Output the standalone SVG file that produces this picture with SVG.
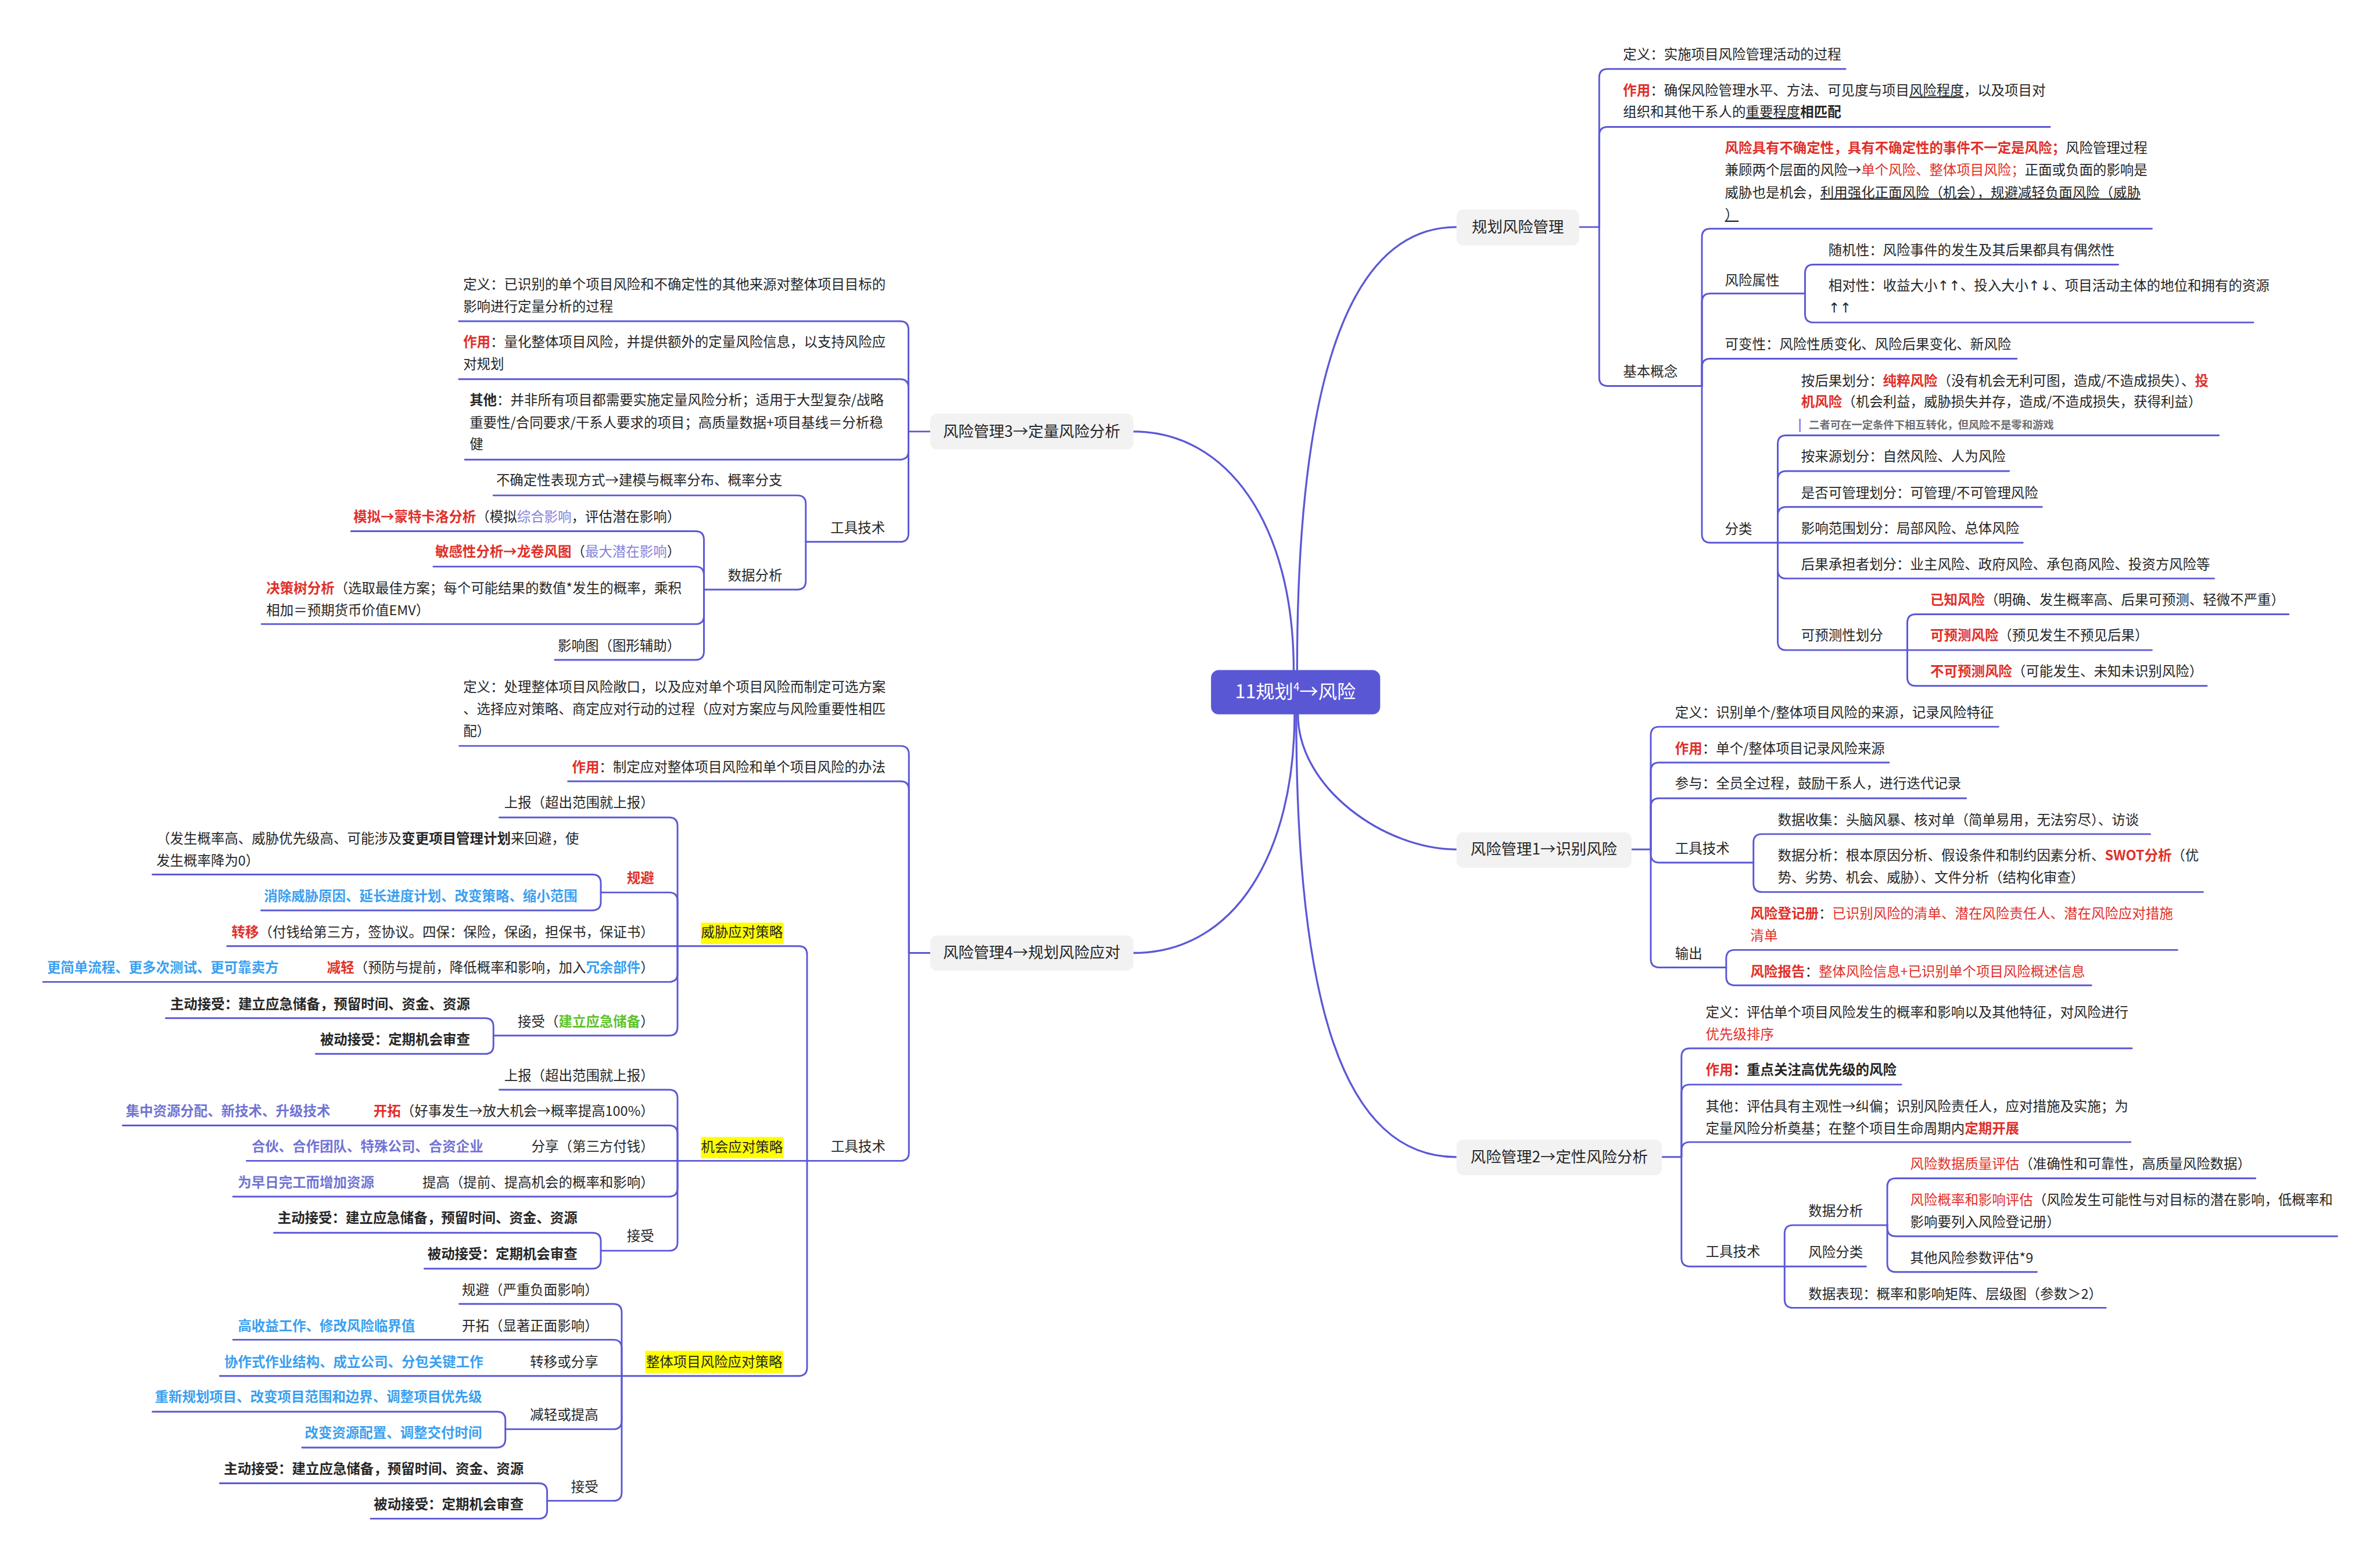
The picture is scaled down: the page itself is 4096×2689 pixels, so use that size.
<svg xmlns="http://www.w3.org/2000/svg" width="4096" height="2689" viewBox="0 0 4096 2689">
<style>
text{font-family:"Noto Sans CJK SC","Noto Sans",sans-serif;font-size:32px;fill:#262626}
.c{fill:none;stroke:#5B58D6;stroke-width:4;stroke-linecap:round;stroke-linejoin:round}
.m{fill:none;stroke:#5B58D6;stroke-width:4.5;stroke-linecap:round}
.r{fill:#E0302A}
.b{font-weight:bold}
.rb{fill:#E0302A;font-weight:bold}
.bl{fill:#3A9FF0;font-weight:bold}
.pb{fill:#7173D4;font-weight:bold}
.pu{fill:#8583DA}
.gr{fill:#5FC22B;font-weight:bold}
.u{text-decoration:underline}
.l1{font-size:36px;text-anchor:middle}
.hl{fill:#FFFF00}
.n1{fill:#F2F2F2}
.e{text-anchor:end}
.note{font-size:25px;font-weight:bold;fill:#6E6E73}
.ct{font-size:44px;fill:#FFFFFF;text-anchor:middle}
.ar{font-family:"DejaVu Sans",sans-serif}
</style>
<rect width="4096" height="2689" fill="#FFFFFF"/>
<g transform="scale(0.73335)">
<g id="connectors">
<path class="m" d="M3044 1573C3044 1000 3130 533 3418 533"/>
<path class="m" d="M3036 1573C3036 1230 2880 1013 2660 1013"/>
<path class="m" d="M3046 1677C3046 1850 3250 1994 3418 1994"/>
<path class="m" d="M3042 1677C3042 2350 3150 2716 3418 2716"/>
<path class="m" d="M3038 1677C3038 2000 2900 2237 2660 2237"/>
<path class="c" d="M3706 533H3753"/>
<path class="c" d="M3753 533V182Q3753 162 3773 162H4331"/>
<path class="c" d="M3753 533V318Q3753 298 3773 298H4811"/>
<path class="c" d="M3753 533V886Q3753 906 3773 906H3994"/>
<path class="c" d="M3994 906V557Q3994 537 4014 537H5050"/>
<path class="c" d="M3994 906V709Q3994 689 4014 689H4236"/>
<path class="c" d="M3994 906V862Q3994 842 4014 842H4733"/>
<path class="c" d="M3994 906V1254Q3994 1274 4014 1274H4172"/>
<path class="c" d="M4236 689V641Q4236 621 4256 621H4971"/>
<path class="c" d="M4236 689V737Q4236 757 4256 757H5288"/>
<path class="c" d="M4172 1274V1042Q4172 1022 4192 1022H5207"/>
<path class="c" d="M4172 1274V1126Q4172 1106 4192 1106H4715"/>
<path class="c" d="M4172 1274V1210Q4172 1190 4192 1190H4792"/>
<path class="c" d="M4172 1274H4747"/>
<path class="c" d="M4172 1274V1338Q4172 1358 4192 1358H5196"/>
<path class="c" d="M4172 1274V1506Q4172 1526 4192 1526H4476"/>
<path class="c" d="M4476 1526V1462Q4476 1442 4496 1442H5371"/>
<path class="c" d="M4476 1526H5050"/>
<path class="c" d="M4476 1526V1590Q4476 1610 4496 1610H5179"/>
<path class="c" d="M3829 1994H3874"/>
<path class="c" d="M3874 1994V1726Q3874 1706 3894 1706H4690"/>
<path class="c" d="M3874 1994V1810Q3874 1790 3894 1790H4433"/>
<path class="c" d="M3874 1994V1894Q3874 1874 3894 1874H4614"/>
<path class="c" d="M3874 1994V2005Q3874 2025 3894 2025H4115"/>
<path class="c" d="M3874 1994V2251Q3874 2271 3894 2271H4051"/>
<path class="c" d="M4115 2025V1978Q4115 1958 4135 1958H5046"/>
<path class="c" d="M4115 2025V2074Q4115 2094 4135 2094H5170"/>
<path class="c" d="M4051 2271V2250Q4051 2230 4071 2230H5110"/>
<path class="c" d="M4051 2271V2293Q4051 2313 4071 2313H4908"/>
<path class="c" d="M3900 2716H3946"/>
<path class="c" d="M3946 2716V2481Q3946 2461 3966 2461H5003"/>
<path class="c" d="M3946 2716V2566Q3946 2546 3966 2546H4462"/>
<path class="c" d="M3946 2716V2701Q3946 2681 3966 2681H5000"/>
<path class="c" d="M3946 2716V2953Q3946 2973 3966 2973H4188"/>
<path class="c" d="M4188 2973V2896Q4188 2876 4208 2876H4429"/>
<path class="c" d="M4188 2973H4379"/>
<path class="c" d="M4188 2973V3050Q4188 3070 4208 3070H4942"/>
<path class="c" d="M4429 2876V2786Q4429 2766 4449 2766H5293"/>
<path class="c" d="M4429 2876V2882Q4429 2902 4449 2902H5485"/>
<path class="c" d="M4429 2876V2966Q4429 2986 4449 2986H4780"/>
<path class="c" d="M2183 1013H2132"/>
<path class="c" d="M2132 1013V774Q2132 754 2112 754H1077"/>
<path class="c" d="M2132 1013V910Q2132 890 2112 890H1077"/>
<path class="c" d="M2132 1013V1059Q2132 1079 2112 1079H1091"/>
<path class="c" d="M2132 1013V1252Q2132 1272 2112 1272H1891"/>
<path class="c" d="M1891 1272V1183Q1891 1163 1871 1163H1158"/>
<path class="c" d="M1891 1272V1364Q1891 1384 1871 1384H1652"/>
<path class="c" d="M1652 1384V1267Q1652 1247 1632 1247H824"/>
<path class="c" d="M1652 1384V1350Q1652 1330 1632 1330H1017"/>
<path class="c" d="M1652 1384V1445Q1652 1465 1632 1465H614"/>
<path class="c" d="M1652 1384V1529Q1652 1549 1632 1549H1302"/>
<path class="c" d="M2183 2237H2133"/>
<path class="c" d="M2133 2237V1771Q2133 1751 2113 1751H1078"/>
<path class="c" d="M2133 2237V1854Q2133 1834 2113 1834H1333"/>
<path class="c" d="M2133 2237V2705Q2133 2725 2113 2725H1894"/>
<path class="c" d="M1894 2725V2241Q1894 2221 1874 2221H1590"/>
<path class="c" d="M1894 2725H1590"/>
<path class="c" d="M1894 2725V3210Q1894 3230 1874 3230H1459"/>
<path class="c" d="M1590 2221V1939Q1590 1919 1570 1919H1172"/>
<path class="c" d="M1590 2221V2115Q1590 2095 1570 2095H1410"/>
<path class="c" d="M1590 2221H533"/>
<path class="c" d="M1590 2221V2285Q1590 2305 1570 2305H101"/>
<path class="c" d="M1590 2221V2411Q1590 2431 1570 2431H1158"/>
<path class="c" d="M1410 2095V2073Q1410 2053 1390 2053H358"/>
<path class="c" d="M1410 2095V2117Q1410 2137 1390 2137H613"/>
<path class="c" d="M1158 2431V2410Q1158 2390 1138 2390H389"/>
<path class="c" d="M1158 2431V2454Q1158 2474 1138 2474H741"/>
<path class="c" d="M1590 2725V2578Q1590 2558 1570 2558H1172"/>
<path class="c" d="M1590 2725V2662Q1590 2642 1570 2642H288"/>
<path class="c" d="M1590 2725H579"/>
<path class="c" d="M1590 2725V2789Q1590 2809 1570 2809H547"/>
<path class="c" d="M1590 2725V2916Q1590 2936 1570 2936H1410"/>
<path class="c" d="M1410 2936V2914Q1410 2894 1390 2894H643"/>
<path class="c" d="M1410 2936V2958Q1410 2978 1390 2978H996"/>
<path class="c" d="M1459 3230V3081Q1459 3061 1439 3061H1078"/>
<path class="c" d="M1459 3230V3165Q1459 3145 1439 3145H547"/>
<path class="c" d="M1459 3230H516"/>
<path class="c" d="M1459 3230V3335Q1459 3355 1439 3355H1186"/>
<path class="c" d="M1459 3230V3503Q1459 3523 1439 3523H1284"/>
<path class="c" d="M1186 3355V3334Q1186 3314 1166 3314H358"/>
<path class="c" d="M1186 3355V3378Q1186 3398 1166 3398H709"/>
<path class="c" d="M1284 3523V3502Q1284 3482 1264 3482H516"/>
<path class="c" d="M1284 3523V3545Q1284 3565 1264 3565H870"/>
</g>

<g id="root">
<rect x="2842" y="1573" width="397" height="104" rx="18" fill="#5A57D5"/>
<text class="ct" x="3040" y="1639">11规划<tspan font-size="26" dy="-18">4</tspan><tspan dy="18">→风险</tspan></text>
</g>

<g id="plan">
<rect class="n1" x="3418" y="492" width="288" height="84" rx="16"/>
<text class="l1" x="3562" y="546">规划风险管理</text>
</g>
<g id="plan-def"><text x="3809" y="139">定义：实施项目风险管理活动的过程</text></g>
<g id="plan-role"><text x="3809" y="224"><tspan class="rb">作用</tspan>：确保风险管理水平、方法、可见度与项目<tspan class="u">风险程度</tspan>，以及项目对<tspan x="3809" y="274">组织和其他干系人的</tspan><tspan class="u">重要程度</tspan><tspan class="b">相匹配</tspan></text></g>
<g id="plan-basic"><text x="3809" y="883">基本概念</text></g>
<g id="basic-risk"><text x="4048" y="359"><tspan class="rb">风险具有不确定性，具有不确定性的事件不一定是风险；</tspan>风险管理过程<tspan x="4048" y="411">兼顾两个层面的风险→</tspan><tspan class="r">单个风险、整体项目风险；</tspan>正面或负面的影响是<tspan x="4048" y="463">威胁也是机会，</tspan><tspan class="u">利用强化正面风险（机会），规避减轻负面风险（威胁</tspan><tspan x="4048" y="515" class="u">）</tspan></text></g>
<g id="basic-attr"><text x="4048" y="669">风险属性</text></g>
<g id="attr-random"><text x="4291" y="599">随机性：风险事件的发生及其后果都具有偶然性</text></g>
<g id="attr-relative"><text x="4291" y="682">相对性：收益大小<tspan class="ar">↑↑</tspan>、投入大小<tspan class="ar">↑↓</tspan>、项目活动主体的地位和拥有的资源<tspan x="4291" y="734" class="ar">↑↑</tspan></text></g>
<g id="basic-var"><text x="4048" y="819">可变性：风险性质变化、风险后果变化、新风险</text></g>
<g id="basic-cls"><text x="4048" y="1253">分类</text></g>
<g id="cls-result">
<text x="4227" y="905">按后果划分：<tspan class="rb">纯粹风险</tspan>（没有机会无利可图，造成/不造成损失）、<tspan class="rb">投</tspan><tspan x="4227" y="955" class="rb">机风险</tspan>（机会利益，威胁损失并存，造成/不造成损失，获得利益）</text>
<rect x="4222" y="983" width="4" height="31" fill="#8F8DE3"/>
<text class="note" x="4245" y="1006">二者可在一定条件下相互转化，但风险不是零和游戏</text>
</g>
<g id="cls-source"><text x="4227" y="1083">按来源划分：自然风险、人为风险</text></g>
<g id="cls-manage"><text x="4227" y="1168">是否可管理划分：可管理/不可管理风险</text></g>
<g id="cls-scope"><text x="4227" y="1252">影响范围划分：局部风险、总体风险</text></g>
<g id="cls-bearer"><text x="4227" y="1336">后果承担者划分：业主风险、政府风险、承包商风险、投资方风险等</text></g>
<g id="cls-predict"><text x="4227" y="1503">可预测性划分</text></g>
<g id="pred-known"><text x="4530" y="1419"><tspan class="rb">已知风险</tspan>（明确、发生概率高、后果可预测、轻微不严重）</text></g>
<g id="pred-pred"><text x="4530" y="1503"><tspan class="rb">可预测风险</tspan>（预见发生不预见后果）</text></g>
<g id="pred-unpred"><text x="4530" y="1587"><tspan class="rb">不可预测风险</tspan>（可能发生、未知未识别风险）</text></g>

<g id="identify">
<rect class="n1" x="3418" y="1954" width="411" height="83" rx="16"/>
<text class="l1" x="3623" y="2006">风险管理1→识别风险</text>
</g>
<g id="id-def"><text x="3931" y="1684">定义：识别单个/整体项目风险的来源，记录风险特征</text></g>
<g id="id-role"><text x="3931" y="1768"><tspan class="rb">作用</tspan>：单个/整体项目记录风险来源</text></g>
<g id="id-part"><text x="3931" y="1851">参与：全员全过程，鼓励干系人，进行迭代记录</text></g>
<g id="id-tools"><text x="3931" y="2003">工具技术</text></g>
<g id="id-collect"><text x="4172" y="1936">数据收集：头脑风暴、核对单（简单易用，无法穷尽）、访谈</text></g>
<g id="id-analysis"><text x="4172" y="2019">数据分析：根本原因分析、假设条件和制约因素分析、<tspan class="rb">SWOT分析</tspan>（优<tspan x="4172" y="2071">势、劣势、机会、威胁）、文件分析（结构化审查）</tspan></text></g>
<g id="id-output"><text x="3931" y="2250">输出</text></g>
<g id="id-register"><text x="4108" y="2156"><tspan class="rb">风险登记册</tspan>：<tspan class="r">已识别风险的清单、潜在风险责任人、潜在风险应对措施</tspan><tspan x="4108" y="2208" class="r">清单</tspan></text></g>
<g id="id-report"><text x="4108" y="2292"><tspan class="rb">风险报告</tspan>：<tspan class="r">整体风险信息+已识别单个项目风险概述信息</tspan></text></g>

<g id="qualitative">
<rect class="n1" x="3418" y="2675" width="482" height="84" rx="16"/>
<text class="l1" x="3659" y="2728">风险管理2→定性风险分析</text>
</g>
<g id="ql-def"><text x="4003" y="2387">定义：评估单个项目风险发生的概率和影响以及其他特征，对风险进行<tspan x="4003" y="2439" class="r">优先级排序</tspan></text></g>
<g id="ql-role"><text x="4003" y="2523"><tspan class="rb">作用</tspan><tspan class="b">：重点关注高优先级的风险</tspan></text></g>
<g id="ql-other"><text x="4003" y="2608">其他：评估具有主观性→纠偏；识别风险责任人，应对措施及实施；为<tspan x="4003" y="2660">定量风险分析奠基；在整个项目生命周期内</tspan><tspan class="rb">定期开展</tspan></text></g>
<g id="ql-tools"><text x="4003" y="2949">工具技术</text></g>
<g id="ql-analysis"><text x="4244" y="2854">数据分析</text></g>
<g id="ql-quality"><text x="4483" y="2743"><tspan class="r">风险数据质量评估</tspan>（准确性和可靠性，高质量风险数据）</text></g>
<g id="ql-prob"><text x="4483" y="2828"><tspan class="r">风险概率和影响评估</tspan>（风险发生可能性与对目标的潜在影响，低概率和<tspan x="4483" y="2880">影响要列入风险登记册）</tspan></text></g>
<g id="ql-params"><text x="4483" y="2964">其他风险参数评估*9</text></g>
<g id="ql-cls"><text x="4244" y="2951">风险分类</text></g>
<g id="ql-present"><text x="4244" y="3049">数据表现：概率和影响矩阵、层级图（参数＞2）</text></g>

<g id="quantitative">
<rect class="n1" x="2183" y="971" width="477" height="84" rx="16"/>
<text class="l1" x="2421" y="1025">风险管理3→定量风险分析</text>
</g>
<g id="qt-def"><text x="1087" y="679">定义：已识别的单个项目风险和不确定性的其他来源对整体项目目标的<tspan x="1087" y="731">影响进行定量分析的过程</tspan></text></g>
<g id="qt-role"><text x="1087" y="814"><tspan class="rb">作用</tspan>：量化整体项目风险，并提供额外的定量风险信息，以支持风险应<tspan x="1087" y="866">对规划</tspan></text></g>
<g id="qt-other"><text x="1102" y="951"><tspan class="b">其他</tspan>：并非所有项目都需要实施定量风险分析；适用于大型复杂/战略<tspan x="1102" y="1003">重要性/合同要求/干系人要求的项目；高质量数据+项目基线＝分析稳</tspan><tspan x="1102" y="1054">健</tspan></text></g>
<g id="qt-tools"><text class="e" x="2077" y="1250">工具技术</text></g>
<g id="qt-uncert"><text class="e" x="1836" y="1139">不确定性表现方式→建模与概率分布、概率分支</text></g>
<g id="qt-analysis"><text class="e" x="1836" y="1362">数据分析</text></g>
<g id="qt-sim"><text class="e" x="1597" y="1225"><tspan class="rb">模拟→蒙特卡洛分析</tspan>（模拟<tspan class="pu">综合影响</tspan>，评估潜在影响）</text></g>
<g id="qt-sens"><text class="e" x="1597" y="1307"><tspan class="rb">敏感性分析→龙卷风图</tspan>（<tspan class="pu">最大潜在影响</tspan>）</text></g>
<g id="qt-tree"><text x="625" y="1392"><tspan class="rb">决策树分析</tspan>（选取最佳方案；每个可能结果的数值*发生的概率，乘积<tspan x="625" y="1444">相加＝预期货币价值EMV）</tspan></text></g>
<g id="qt-infl"><text class="e" x="1597" y="1527">影响图（图形辅助）</text></g>

<g id="response">
<rect class="n1" x="2183" y="2196" width="477" height="83" rx="16"/>
<text class="l1" x="2421" y="2249">风险管理4→规划风险应对</text>
</g>
<g id="rs-def"><text x="1087" y="1624">定义：处理整体项目风险敞口，以及应对单个项目风险而制定可选方案<tspan x="1087" y="1676">、选择应对策略、商定应对行动的过程（应对方案应与风险重要性相匹</tspan><tspan x="1087" y="1728">配）</tspan></text></g>
<g id="rs-role"><text class="e" x="2078" y="1812"><tspan class="rb">作用</tspan>：制定应对整体项目风险和单个项目风险的办法</text></g>
<g id="rs-tools"><text class="e" x="2078" y="2703">工具技术</text></g>

<g id="threat"><rect class="hl" x="1645" y="2166" width="194" height="50"/><text class="e" x="1837" y="2199">威胁应对策略</text></g>
<g id="th-escalate"><text class="e" x="1535" y="1895">上报（超出范围就上报）</text></g>
<g id="th-avoid"><text class="e rb" x="1535" y="2072">规避</text></g>
<g id="th-avoid-1"><text x="367" y="1980">（发生概率高、威胁优先级高、可能涉及<tspan class="b">变更项目管理计划</tspan>来回避，使<tspan x="367" y="2032">发生概率降为0）</tspan></text></g>
<g id="th-avoid-2"><text class="e bl" x="1355" y="2115">消除威胁原因、延长进度计划、改变策略、缩小范围</text></g>
<g id="th-transfer"><text class="e" x="1535" y="2199"><tspan class="rb">转移</tspan>（付钱给第三方，签协议。四保：保险，保函，担保书，保证书）</text></g>
<g id="th-mitigate"><text class="e" x="1535" y="2283"><tspan class="rb">减轻</tspan>（预防与提前，降低概率和影响，加入<tspan class="bl">冗余部件</tspan>）</text></g>
<g id="th-mitigate-1"><text class="e bl" x="654" y="2283">更简单流程、更多次测试、更可靠卖方</text></g>
<g id="th-accept"><text class="e" x="1535" y="2409">接受（<tspan class="gr">建立应急储备</tspan>）</text></g>
<g id="th-accept-1"><text class="e b" x="1103" y="2368">主动接受：建立应急储备，预留时间、资金、资源</text></g>
<g id="th-accept-2"><text class="e b" x="1103" y="2452">被动接受：定期机会审查</text></g>

<g id="opportunity"><rect class="hl" x="1645" y="2669" width="194" height="50"/><text class="e" x="1837" y="2704">机会应对策略</text></g>
<g id="op-escalate"><text class="e" x="1535" y="2536">上报（超出范围就上报）</text></g>
<g id="op-exploit"><text class="e" x="1535" y="2620"><tspan class="rb">开拓</tspan>（好事发生→放大机会→概率提高100%）</text></g>
<g id="op-exploit-1"><text class="e pb" x="775" y="2620">集中资源分配、新技术、升级技术</text></g>
<g id="op-share"><text class="e" x="1535" y="2703">分享（第三方付钱）</text></g>
<g id="op-share-1"><text class="e pb" x="1134" y="2703">合伙、合作团队、特殊公司、合资企业</text></g>
<g id="op-enhance"><text class="e" x="1535" y="2787">提高（提前、提高机会的概率和影响）</text></g>
<g id="op-enhance-1"><text class="e pb" x="878" y="2787">为早日完工而增加资源</text></g>
<g id="op-accept"><text class="e" x="1535" y="2913">接受</text></g>
<g id="op-accept-1"><text class="e b" x="1355" y="2871">主动接受：建立应急储备，预留时间、资金、资源</text></g>
<g id="op-accept-2"><text class="e b" x="1355" y="2955">被动接受：定期机会审查</text></g>

<g id="overall"><rect class="hl" x="1514" y="3171" width="324" height="52"/><text class="e" x="1836" y="3208">整体项目风险应对策略</text></g>
<g id="ov-avoid"><text class="e" x="1404" y="3039">规避（严重负面影响）</text></g>
<g id="ov-exploit"><text class="e" x="1404" y="3124">开拓（显著正面影响）</text></g>
<g id="ov-exploit-1"><text class="e bl" x="974" y="3124">高收益工作、修改风险临界值</text></g>
<g id="ov-share"><text class="e" x="1404" y="3208">转移或分享</text></g>
<g id="ov-share-1"><text class="e bl" x="1134" y="3208">协作式作业结构、成立公司、分包关键工作</text></g>
<g id="ov-mitigate"><text class="e" x="1404" y="3333">减轻或提高</text></g>
<g id="ov-mitigate-1"><text class="e bl" x="1131" y="3291">重新规划项目、改变项目范围和边界、调整项目优先级</text></g>
<g id="ov-mitigate-2"><text class="e bl" x="1131" y="3375">改变资源配置、调整交付时间</text></g>
<g id="ov-accept"><text class="e" x="1404" y="3502">接受</text></g>
<g id="ov-accept-1"><text class="e b" x="1229" y="3459">主动接受：建立应急储备，预留时间、资金、资源</text></g>
<g id="ov-accept-2"><text class="e b" x="1229" y="3542">被动接受：定期机会审查</text></g>
</g>
</svg>
